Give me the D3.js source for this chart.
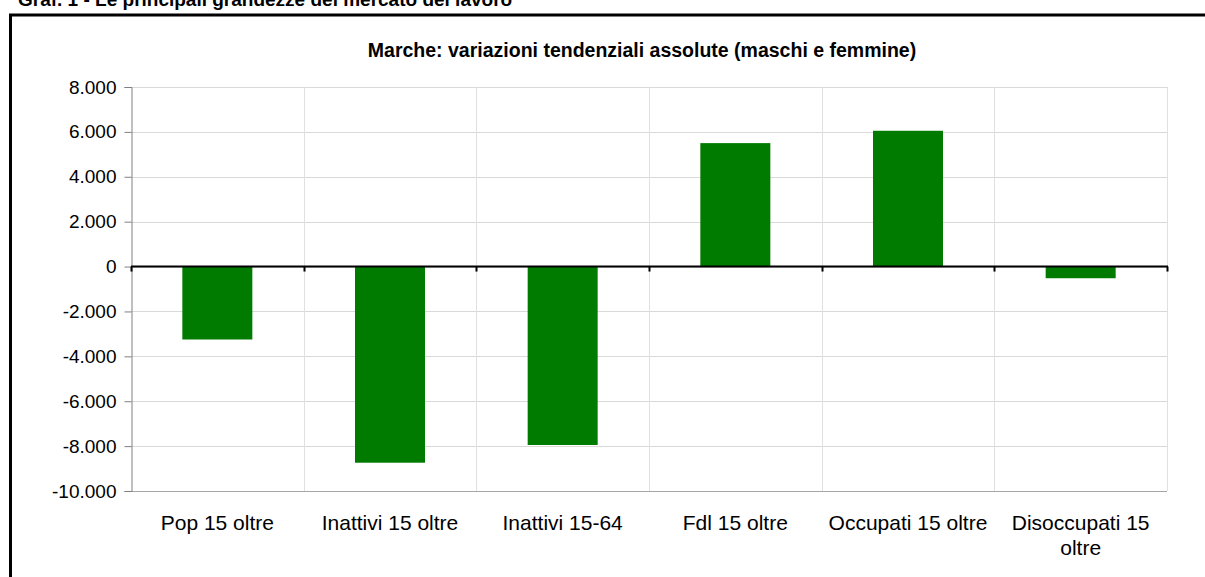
<!DOCTYPE html>
<html>
<head>
<meta charset="utf-8">
<script src="https://cdn.jsdelivr.net/npm/d3@7"></script>
<style>
  body { margin: 0; background: #fff; }
  svg { display: block; font-family: "Liberation Sans", Arial, sans-serif; }
</style>
</head>
<body>
<svg id="chart"></svg>
<script>
// data
var categories = ["Pop 15 oltre", "Inattivi 15 oltre", "Inattivi 15-64", "Fdl 15 oltre", "Occupati 15 oltre", "Disoccupati 15 oltre"];
var values = [-3250, -8740, -7950, 5500, 6050, -520];
var yTicks = [8000, 6000, 4000, 2000, 0, -2000, -4000, -6000, -8000, -10000];

var width = 1205, height = 577;
var margin = {top: 87, right: 38, bottom: 86, left: 131};

var svg = d3.select("#chart")
    .attr("width", width)
    .attr("height", height);

// outer frame (runs past the bottom/right of the picture)
svg.append("path")
    .attr("d", "M10.5," + height + " V15 H" + width)
    .attr("fill", "none")
    .attr("stroke", "#000")
    .attr("stroke-width", 3);

svg.append("text")
    .attr("x", 18)
    .attr("y", 6)
    .attr("font-size", 19)
    .attr("font-weight", "bold")
    .text("Graf. 1 - Le principali grandezze del mercato del lavoro");

svg.append("text")
    .attr("x", 642)
    .attr("y", 57)
    .attr("text-anchor", "middle")
    .attr("font-size", 19.5)
    .attr("font-weight", "bold")
    .text("Marche: variazioni tendenziali assolute (maschi e femmine)");

var x = d3.scaleBand()
    .domain(categories)
    .range([margin.left, width - margin.right])
    .paddingInner(0)
    .paddingOuter(0);

var y = d3.scaleLinear()
    .domain([-10000, 8000])
    .range([height - margin.bottom, margin.top]);

var g = svg.append("g");

// horizontal gridlines
g.selectAll(".hgrid")
    .data(yTicks)
    .enter()
    .append("line")
    .attr("x1", margin.left)
    .attr("x2", width - margin.right)
    .attr("y1", function(d) { return Math.round(y(d)) + 0.5; })
    .attr("y2", function(d) { return Math.round(y(d)) + 0.5; })
    .attr("stroke", function(d) { return d == -10000 ? "#a6a6a6" : "#d9d9d9"; })
    .attr("stroke-width", 1);

// vertical gridlines at category borders
var borders = categories.map(function(c) { return x(c) + x.bandwidth(); });
g.selectAll(".vgrid")
    .data(borders)
    .enter()
    .append("line")
    .attr("x1", function(d) { return Math.round(d) + 0.5; })
    .attr("x2", function(d) { return Math.round(d) + 0.5; })
    .attr("y1", y(8000))
    .attr("y2", y(-10000))
    .attr("stroke", "#e0e0e0")
    .attr("stroke-width", 1);

// bars
var barW = 70;
g.selectAll(".bar")
    .data(values)
    .enter()
    .append("rect")
    .attr("x", function(d, i) { return x(categories[i]) + (x.bandwidth() - barW) / 2; })
    .attr("width", barW)
    .attr("y", function(d) { return y(Math.max(0, d)); })
    .attr("height", function(d) { return Math.abs(y(d) - y(0)); })
    .attr("fill", "#007b00");

// y axis, Italian number format with a plain hyphen
var yAxis = d3.axisLeft(y)
    .tickValues(yTicks)
    .tickSize(7)
    .tickPadding(8)
    .tickFormat(function(d) {
        var s = d3.format(",")(Math.abs(d)).replace(/,/g, ".");
        return d < 0 ? "-" + s : s;
    });

var ya = svg.append("g")
    .attr("transform", "translate(" + (margin.left + 0.5) + ",0)")
    .call(yAxis);
ya.select(".domain").attr("stroke", "#808080");
ya.selectAll(".tick line").attr("stroke", "#808080");
ya.selectAll("text")
    .attr("font-size", 19)
    .attr("font-family", "Liberation Sans, Arial, sans-serif")
    .attr("fill", "#000");

// zero line with tick marks
svg.append("line")
    .attr("x1", margin.left)
    .attr("x2", width - margin.right + 1)
    .attr("y1", y(0))
    .attr("y2", y(0))
    .attr("stroke", "#000")
    .attr("stroke-width", 2);

svg.selectAll(".ztick")
    .data([margin.left].concat(borders))
    .enter()
    .append("line")
    .attr("x1", function(d) { return Math.round(d) + 0.5; })
    .attr("x2", function(d) { return Math.round(d) + 0.5; })
    .attr("y1", y(0))
    .attr("y2", y(0) + 5)
    .attr("stroke", "#000")
    .attr("stroke-width", 2);

// category labels, wrapped to the band width
var labelSize = 21;
function wrap(label, maxW, size) {
    var words = label.split(" "), lines = [], line = "";
    var probe = svg.append("text").attr("font-size", size);
    words.forEach(function(w) {
        var test = line ? line + " " + w : w;
        probe.text(test);
        if (probe.node().getComputedTextLength() > maxW && line) {
            lines.push(line);
            line = w;
        } else {
            line = test;
        }
    });
    lines.push(line);
    probe.remove();
    return lines;
}

var xl = svg.append("g");
categories.forEach(function(c) {
    var lines = wrap(c, x.bandwidth() - 4, labelSize);
    var t = xl.append("text")
        .attr("text-anchor", "middle")
        .attr("font-size", labelSize)
        .attr("x", x(c) + x.bandwidth() / 2)
        .attr("y", 530);
    lines.forEach(function(l, i) {
        t.append("tspan")
            .attr("x", x(c) + x.bandwidth() / 2)
            .attr("dy", i == 0 ? 0 : 25)
            .text(l);
    });
});
</script>
</body>
</html>
